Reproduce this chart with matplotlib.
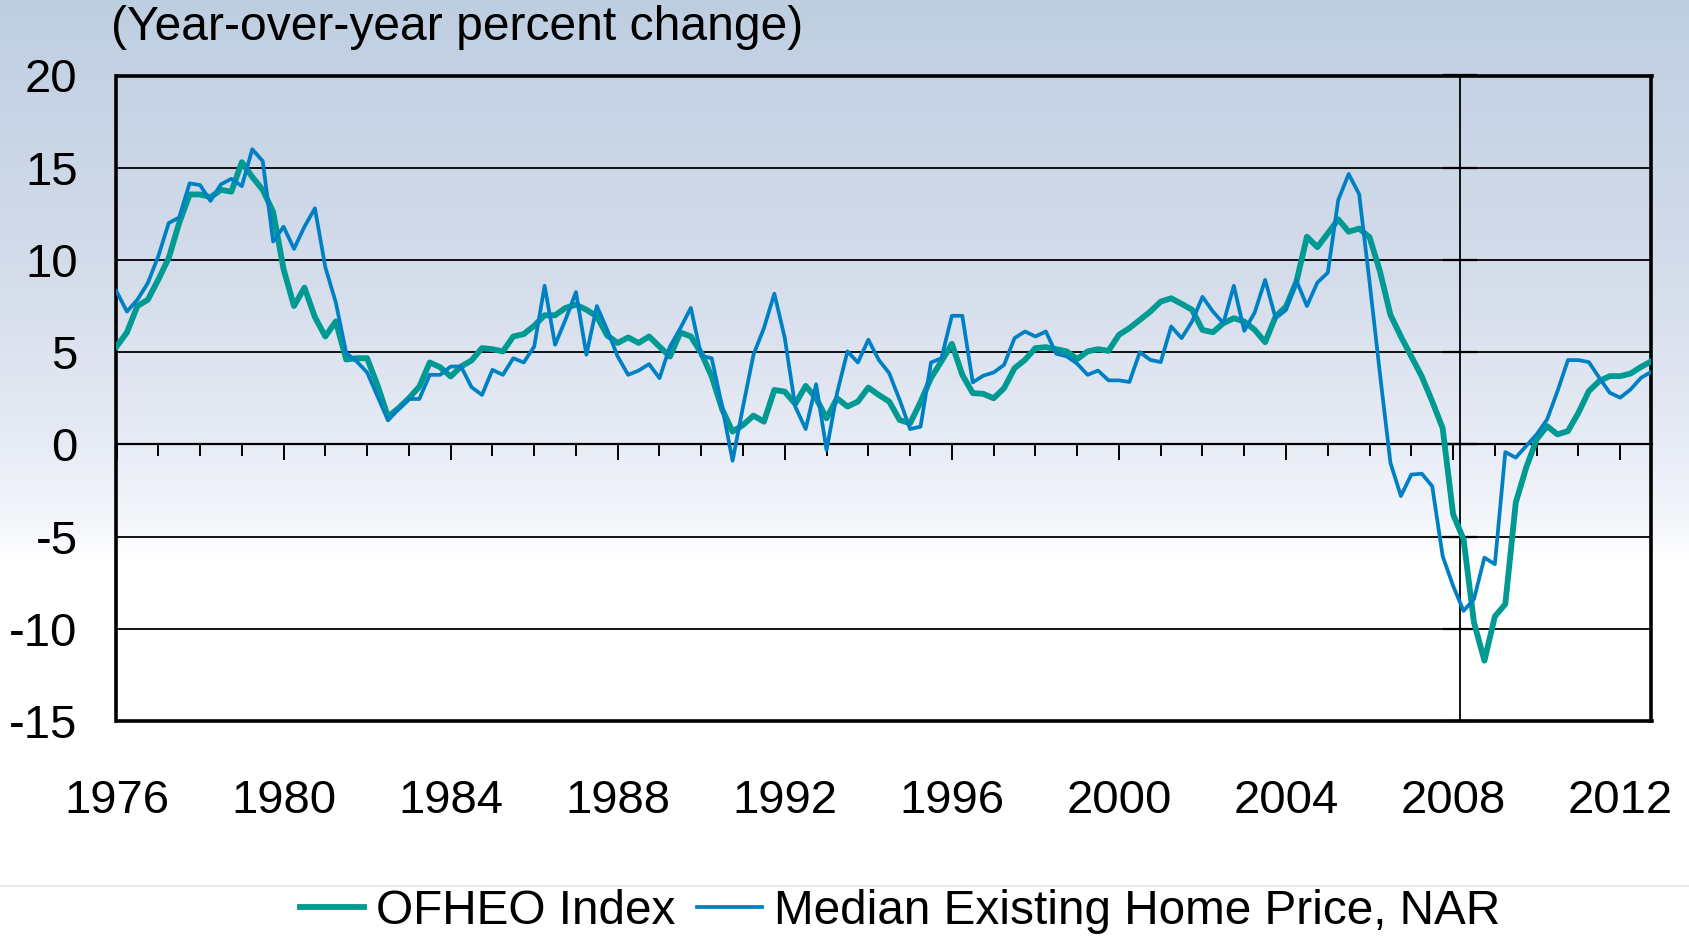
import numpy as np
import matplotlib
matplotlib.use("Agg")
import matplotlib.pyplot as plt
from matplotlib.colors import LinearSegmentedColormap
from matplotlib.lines import Line2D
from matplotlib.ticker import MultipleLocator, FixedLocator, NullFormatter

plt.rcParams['font.family'] = ['Liberation Sans', 'DejaVu Sans']
plt.rcParams['axes.unicode_minus'] = False

# ---- data (quarterly, 1976Q1 .. 2012Q4) ----
start_year = 1976
ofheo = [5.3, 6.07, 7.5, 7.84, 8.93, 10.1, 12.0, 13.55, 13.55, 13.4, 13.8, 13.7,
         15.3, 14.5, 13.8, 12.6, 9.5, 7.5, 8.5, 6.9, 5.85, 6.67, 4.6, 4.67,
         4.67, 3.2, 1.5, 1.96, 2.5, 3.13, 4.44, 4.18, 3.68, 4.22, 4.55, 5.22,
         5.16, 5.04, 5.85, 5.98, 6.43, 7.0, 7.0, 7.4, 7.57, 7.3, 6.94, 5.9,
         5.5, 5.8, 5.5, 5.85, 5.3, 4.76, 6.07, 5.85, 4.95, 3.68, 1.9, 0.69,
         1.05, 1.56, 1.23, 2.95, 2.86, 2.19, 3.17, 2.5, 1.41, 2.5, 2.05, 2.32,
         3.08, 2.68, 2.32, 1.32, 1.14, 2.3, 3.6, 4.5, 5.45, 3.77, 2.78, 2.74,
         2.5, 3.05, 4.13, 4.58, 5.22, 5.27, 5.16, 5.04, 4.62, 5.04, 5.16, 5.07,
         5.94, 6.3, 6.75, 7.2, 7.74, 7.92, 7.62, 7.3, 6.2, 6.08, 6.57, 6.84,
         6.66, 6.21, 5.54, 6.93, 7.47, 8.83, 11.26, 10.69, 11.44, 12.2, 11.53, 11.7,
         11.23, 9.37, 7.02, 5.85, 4.77, 3.68, 2.33, 0.88, -3.79, -5.14, -9.66, -11.73,
         -9.33, -8.66, -3.16, -1.26, 0.27, 0.99, 0.54, 0.72, 1.71, 2.89, 3.43, 3.7,
         3.7, 3.84, 4.2, 4.51]
nar = [8.3, 7.2, 7.84, 8.75, 10.2, 12.0, 12.3, 14.15, 14.06, 13.2, 14.1, 14.4,
       14.0, 16.0, 15.36, 11.0, 11.8, 10.6, 11.8, 12.8, 9.6, 7.7, 4.95, 4.5,
       3.9, 2.6, 1.3, 1.9, 2.46, 2.46, 3.77, 3.77, 4.22, 4.22, 3.1, 2.68,
       4.04, 3.77, 4.67, 4.44, 5.3, 8.6, 5.4, 6.76, 8.26, 4.86, 7.5, 6.2,
       4.76, 3.77, 4.0, 4.35, 3.59, 5.3, 6.3, 7.4, 4.8, 4.67, 2.05, -0.89,
       2.05, 4.86, 6.3, 8.17, 5.76, 2.05, 0.83, 3.26, -0.31, 2.77, 5.04, 4.44,
       5.67, 4.58, 3.86, 2.41, 0.83, 0.96, 4.44, 4.67, 6.97, 6.97, 3.36, 3.72,
       3.9, 4.31, 5.76, 6.12, 5.85, 6.12, 4.91, 4.77, 4.37, 3.77, 4.0, 3.47,
       3.47, 3.38, 5.0, 4.58, 4.46, 6.39, 5.76, 6.66, 8.0, 7.2, 6.57, 8.6,
       6.16, 7.15, 8.92, 6.84, 7.29, 8.88, 7.5, 8.77, 9.31, 13.25, 14.66, 13.57,
       8.8, 3.8, -1.0, -2.8, -1.64, -1.59, -2.27, -6.06, -7.67, -9.03, -8.39, -6.14,
       -6.5, -0.42, -0.72, -0.09, 0.54, 1.35, 2.89, 4.57, 4.57, 4.46, 3.61, 2.8,
       2.53, 2.98, 3.61, 3.94]
series_labels = ["OFHEO Index", "Median Existing Home Price, NAR"]
year_ticks = list(range(1976, 2013, 4))
y_ticks = [-15, -10, -5, 0, 5, 10, 15, 20]
title_text = "(Year-over-year percent change)"
marker_year = 2008.17

t = start_year + np.arange(len(ofheo)) / 4.0
x0, x1 = 1976.0, 2012.75

W, H = 1690, 936
fig = plt.figure(figsize=(W / 100, H / 100), dpi=100)

# ---- background gradient ----
bg = fig.add_axes([0, 0, 1, 1], zorder=-10)
bg.axis('off')
cmap = LinearSegmentedColormap.from_list(
    'bg', [(0.0, '#BECEE1'), (0.30, '#D5DDEB'), (0.48, '#E8ECF5'),
           (0.56, '#F4F6FA'), (0.60, '#FFFFFF'), (1.0, '#FFFFFF')])
grad = np.linspace(0, 1, 512).reshape(-1, 1)
bg.imshow(grad, aspect='auto', cmap=cmap, extent=[0, 1, 0, 1], origin='upper')
bg.set_xlim(0, 1); bg.set_ylim(0, 1)
fig.add_artist(Line2D([0, 1], [1 - 886 / H, 1 - 886 / H], color='#E6E6E6', lw=1.2))

# ---- main axes ----
ax = fig.add_axes([116.5 / W, 1 - 721 / H, (1651.5 - 116.5) / W, (721 - 75.5) / H])
ax.set_facecolor('none')
ax.set_xlim(x0, x1)
ax.set_ylim(-15, 20)
ax.set_yticks(y_ticks)
ax.set_xticks(year_ticks)
ax.tick_params(axis='both', length=0, labelsize=34)
ax.tick_params(axis='y', pad=28)
ax.tick_params(axis='x', pad=42)
for s in ax.spines.values():
    s.set_linewidth(2.6)
    s.set_color('black')
ax.yaxis.grid(True, color='black', lw=1.3)
ax.set_axisbelow(True)

# zero axis with year ticks
zx = ax.secondary_xaxis(15 / 35)
zx.xaxis.set_major_locator(FixedLocator(year_ticks))
zx.xaxis.set_minor_locator(MultipleLocator(1))
zx.xaxis.set_major_formatter(NullFormatter())
zx.tick_params(which='major', direction='out', length=11.5, width=1.4)
zx.tick_params(which='minor', direction='out', length=8.5, width=1.4)
zx.spines['bottom'].set_linewidth(1.6)

# vertical marker axis
vy = ax.secondary_yaxis((marker_year - x0) / (x1 - x0))
vy.yaxis.set_major_locator(FixedLocator(y_ticks))
vy.yaxis.set_major_formatter(NullFormatter())
vy.tick_params(direction='inout', length=24, width=1.6,
               labelleft=False, labelright=False)
for sp in vy.spines.values():
    sp.set_linewidth(1.3)

l1, = ax.plot(t, ofheo, color='#009A93', lw=4.2, label=series_labels[0],
              solid_joinstyle='round', zorder=3)
l2, = ax.plot(t, nar, color='#0080C4', lw=2.7, label=series_labels[1],
              solid_joinstyle='round', zorder=4)

fig.text(111 / W, 1 - 27 / H, title_text, fontsize=34.6, ha='left', va='center')

fig.legend(handles=[l1, l2], loc='center', bbox_to_anchor=(900 / W, 1 - 911 / H),
           ncol=2, frameon=False, fontsize=34.4, handlelength=1.35,
           handletextpad=0.25, columnspacing=0.45, borderaxespad=0)

fig.savefig('out.png', dpi=100)
